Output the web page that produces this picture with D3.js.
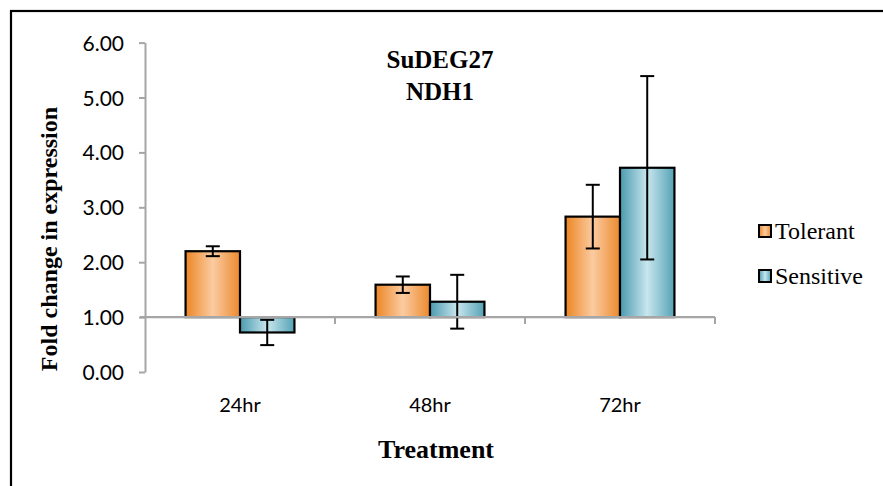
<!DOCTYPE html>
<html>
<head>
<meta charset="utf-8">
<script src="https://cdn.jsdelivr.net/npm/d3@7"></script>
<style>
  html, body { margin: 0; padding: 0; background: #fff; }
  svg { display: block; }
</style>
</head>
<body>
<svg id="chart" width="883" height="486"></svg>
<script>
// ---- data ----
const categories = ["24hr", "48hr", "72hr"];
const seriesNames = ["Tolerant", "Sensitive"];
const tolerant = [2.20, 1.59, 2.83];
const sensitive = [0.72, 1.28, 3.72];
const tolerantErr = [0.09, 0.15, 0.58];
const sensitiveErr = [0.23, 0.49, 1.67];
const yTicks = [0, 1, 2, 3, 4, 5, 6];
const titleLines = ["SuDEG27", "NDH1"];
const xTitle = "Treatment";
const yTitle = "Fold change in expression";

const serif = "'Liberation Serif', 'DejaVu Serif', serif";
const sans = "Lato, 'Open Sans', sans-serif";

const svg = d3.select("#chart");

// frame
svg.append("rect").attr("x", 11).attr("y", 11).attr("width", 900).attr("height", 500)
  .attr("fill", "none").attr("stroke", "#000").attr("stroke-width", 2.2);

const defs = svg.append("defs");
function grad(id, edgeL, mid, edgeR) {
  const g = defs.append("linearGradient").attr("id", id)
    .attr("x1", "0%").attr("x2", "100%").attr("y1", "0%").attr("y2", "0%");
  g.append("stop").attr("offset", "0%").attr("stop-color", edgeL);
  g.append("stop").attr("offset", "50%").attr("stop-color", mid);
  g.append("stop").attr("offset", "100%").attr("stop-color", edgeR);
}
grad("gOrange", "#EC8624", "#FBCBA1", "#EC8A2E");
grad("gBlue", "#4A9AAF", "#C8E6EE", "#54A2B5");
const fills = {Tolerant: "url(#gOrange)", Sensitive: "url(#gBlue)"};

const y = d3.scaleLinear().domain([0, 6]).range([372, 42.6]);
const x0 = d3.scaleBand().domain(categories).range([145, 715]).paddingInner(0).paddingOuter(0);
const x1 = d3.scaleBand().domain(seriesNames).range([0, x0.bandwidth()]).paddingInner(0).paddingOuter(0.745);

const axisColor = "#A6A6A6";
const baseline = 1;

// y axis
const yAxis = d3.axisLeft(y).tickValues(yTicks).tickFormat(d3.format(".2f")).tickSize(6).tickSizeOuter(0);
const gy = svg.append("g").attr("transform", "translate(145,0)").call(yAxis);
gy.select(".domain").attr("stroke", axisColor).attr("stroke-width", 2);
gy.selectAll(".tick line").attr("stroke", axisColor).attr("stroke-width", 2);
gy.selectAll(".tick text").attr("font-family", sans)
  .attr("font-size", 21).attr("fill", "#000").attr("x", -21).attr("dy", "0.36em");

// bars
const data = categories.map((c, i) => ({
  cat: c,
  vals: [
    {s: "Tolerant", v: tolerant[i], e: tolerantErr[i]},
    {s: "Sensitive", v: sensitive[i], e: sensitiveErr[i]}
  ]
}));

const groups = svg.append("g").selectAll("g").data(data).join("g")
  .attr("transform", d => `translate(${x0(d.cat)},0)`);

groups.selectAll("rect").data(d => d.vals).join("rect")
  .attr("x", d => x1(d.s))
  .attr("width", x1.bandwidth())
  .attr("y", d => Math.min(y(d.v), y(baseline)))
  .attr("height", d => Math.abs(y(d.v) - y(baseline)))
  .attr("fill", d => fills[d.s])
  .attr("stroke", "#000").attr("stroke-width", 2.2);

// x axis at baseline 1.00
const xAxisG = svg.append("g").attr("transform", `translate(0,${y(baseline)})`);
xAxisG.append("line").attr("x1", 140).attr("x2", 715).attr("y1", 0).attr("y2", 0)
  .attr("stroke", axisColor).attr("stroke-width", 2.2);
const boundaries = categories.map(c => x0(c) + x0.bandwidth());
xAxisG.selectAll("line.tk").data(boundaries).join("line").attr("class", "tk")
  .attr("x1", d => d).attr("x2", d => d).attr("y1", 0).attr("y2", 7)
  .attr("stroke", axisColor).attr("stroke-width", 2);

// error bars
const eb = groups.selectAll("g.eb").data(d => d.vals).join("g").attr("class", "eb");
const cap = 7;
const cx = d => x1(d.s) + x1.bandwidth() / 2;
eb.append("line")
  .attr("x1", cx).attr("x2", cx)
  .attr("y1", d => y(d.v + d.e)).attr("y2", d => y(d.v - d.e))
  .attr("stroke", "#000").attr("stroke-width", 2);
eb.append("line")
  .attr("x1", d => cx(d) - cap).attr("x2", d => cx(d) + cap)
  .attr("y1", d => y(d.v + d.e)).attr("y2", d => y(d.v + d.e))
  .attr("stroke", "#000").attr("stroke-width", 2);
eb.append("line")
  .attr("x1", d => cx(d) - cap).attr("x2", d => cx(d) + cap)
  .attr("y1", d => y(d.v - d.e)).attr("y2", d => y(d.v - d.e))
  .attr("stroke", "#000").attr("stroke-width", 2);

// category labels
svg.append("g").selectAll("text").data(categories).join("text")
  .attr("x", d => x0(d) + x0.bandwidth() / 2)
  .attr("y", 412)
  .attr("text-anchor", "middle")
  .attr("font-family", sans)
  .attr("font-size", 20).attr("fill", "#000")
  .text(d => d);

// title
svg.append("g").selectAll("text").data(titleLines).join("text")
  .attr("x", 440).attr("y", (d, i) => 68 + i * 32)
  .attr("text-anchor", "middle")
  .attr("font-family", serif)
  .attr("font-weight", "bold").attr("font-size", 25).attr("fill", "#000")
  .text(d => d);

// axis titles
svg.append("text").attr("x", 436).attr("y", 458).attr("text-anchor", "middle")
  .attr("font-family", serif)
  .attr("font-weight", "bold").attr("font-size", 26).attr("fill", "#000")
  .text(xTitle);
svg.append("text").attr("transform", "translate(57,239) rotate(-90)").attr("text-anchor", "middle")
  .attr("font-family", serif)
  .attr("font-weight", "bold").attr("font-size", 24).attr("fill", "#000")
  .text(yTitle);

// legend
const legend = svg.append("g").selectAll("g").data(seriesNames).join("g")
  .attr("transform", (d, i) => `translate(759,${231 + i * 45})`);
legend.append("rect").attr("x", 0).attr("y", -6).attr("width", 12).attr("height", 12)
  .attr("fill", d => fills[d]).attr("stroke", "#000").attr("stroke-width", 2);
legend.append("text").attr("x", 16).attr("y", 0).attr("dy", "0.35em")
  .attr("font-family", serif)
  .attr("font-size", 24).attr("fill", "#000")
  .text(d => d);
</script>
</body>
</html>
